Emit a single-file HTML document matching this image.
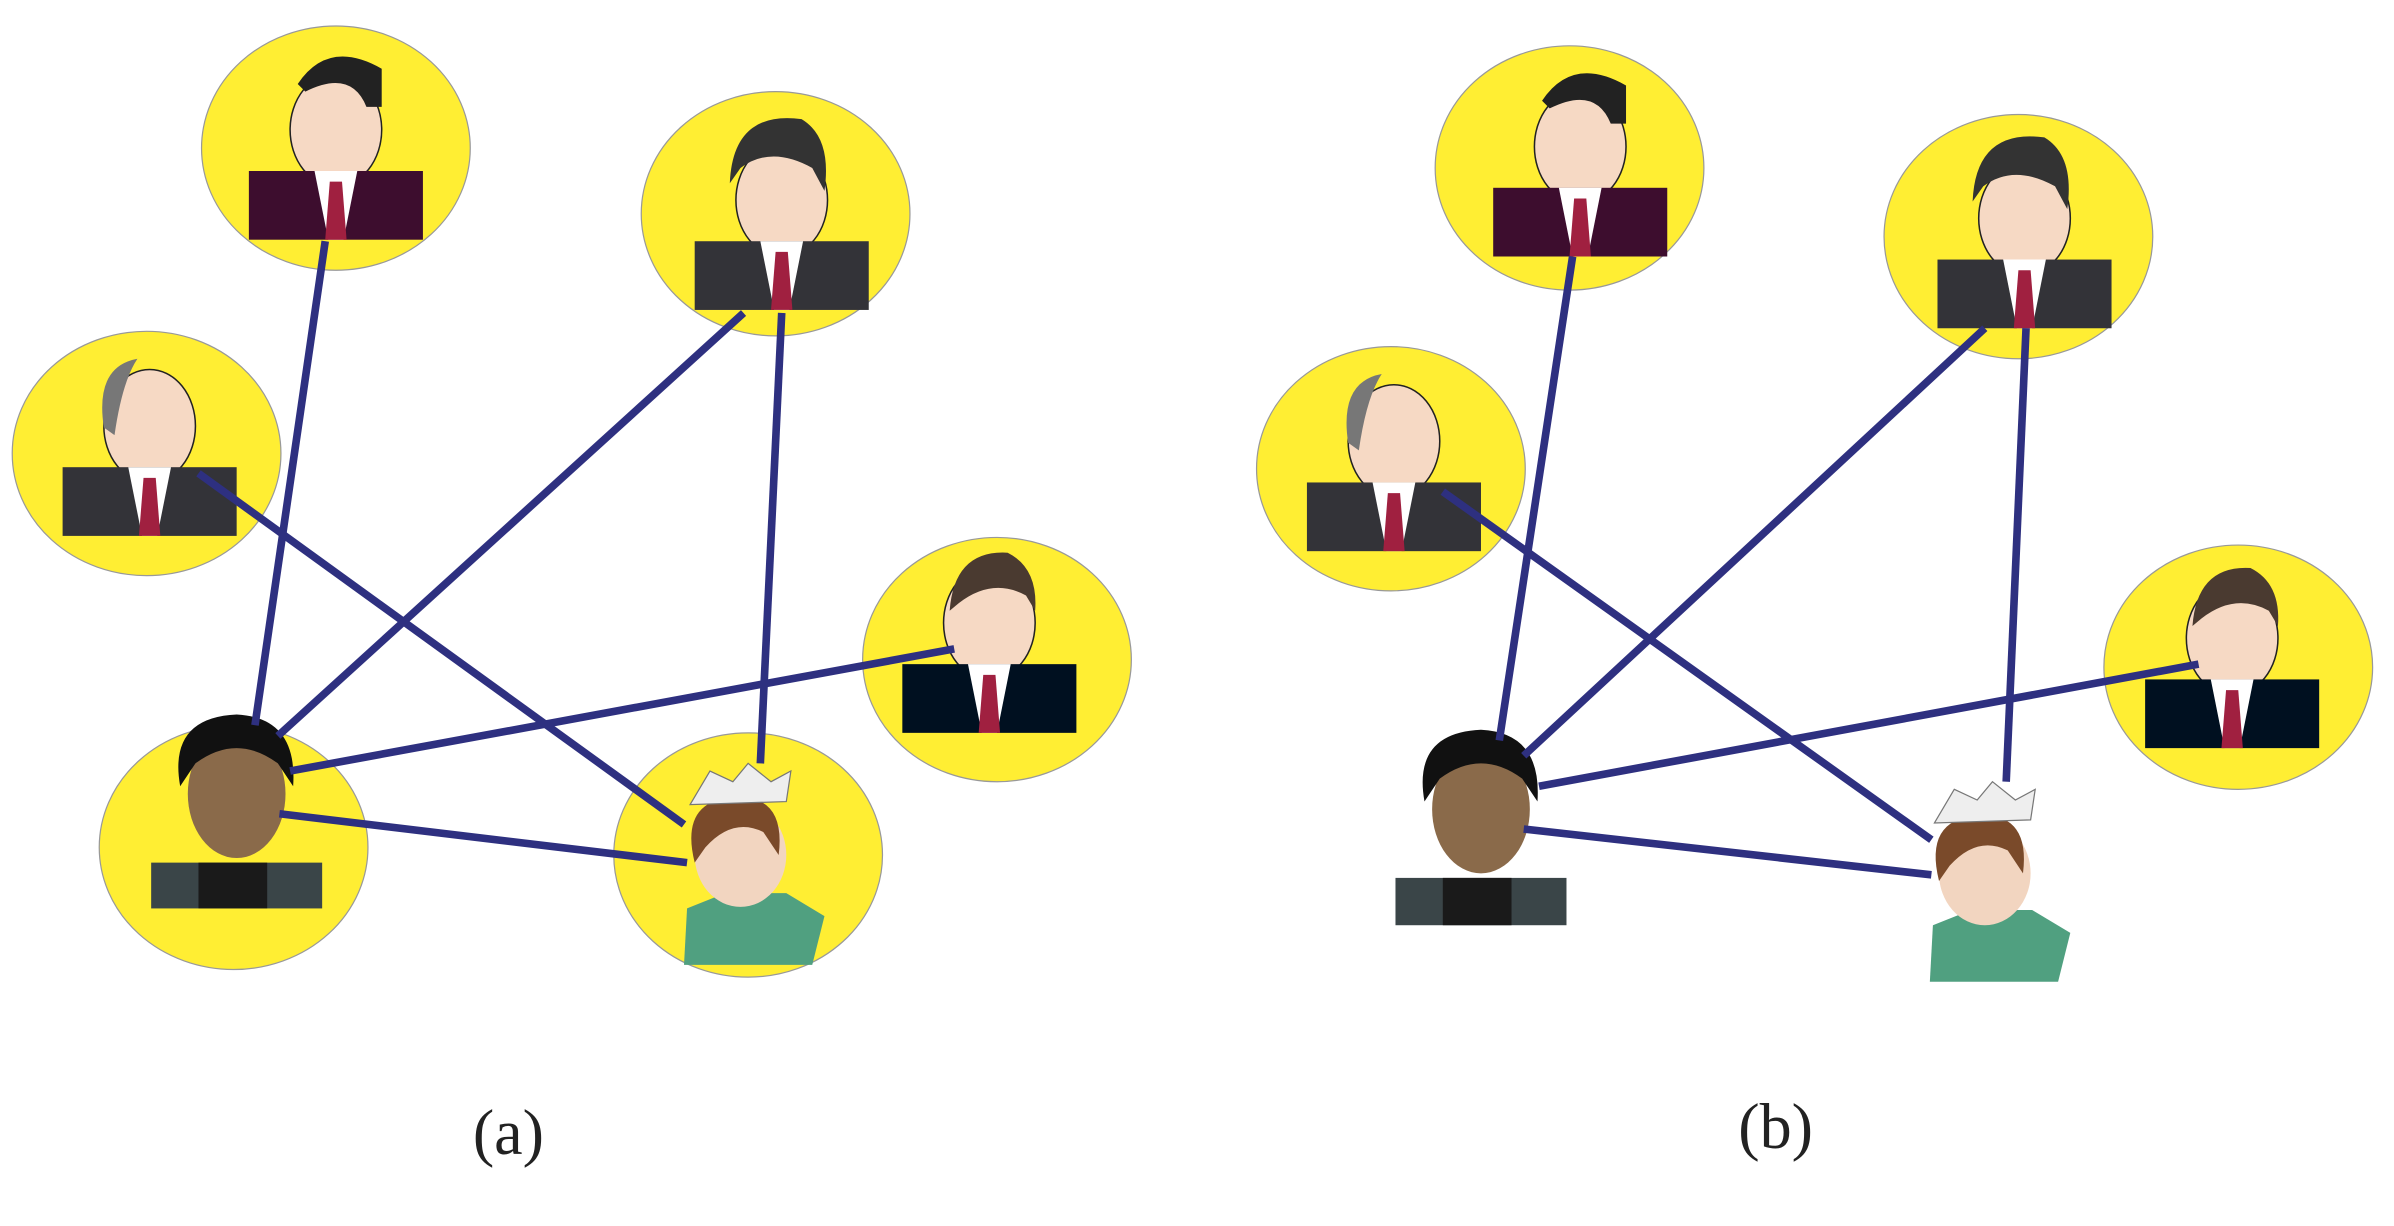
<!DOCTYPE html>
<html><head><meta charset="utf-8"><style>html,body{margin:0;padding:0;background:#fff}svg{display:block}</style></head>
<body>
<svg width="2394" height="1226" viewBox="0 0 1568 803" xmlns="http://www.w3.org/2000/svg">
<defs>
<g id="man">
 <ellipse cx="0" cy="-12" rx="30" ry="37" fill="#f6d9c4" stroke="#222" stroke-width="1"/>
 <rect x="-57" y="15" width="114" height="45" fill="currentColor"/>
 <polygon points="-14,15 14,15 5,60 -5,60" fill="#fff"/>
 <polygon points="-4,22 4,22 7,60 -7,60" fill="#a02040"/>
</g>
</defs>
<g stroke="#999" stroke-width="0.8" fill="#ffee33">
 <ellipse cx="220" cy="97" rx="88" ry="80"/>
 <ellipse cx="508" cy="140" rx="88" ry="80"/>
 <ellipse cx="96" cy="297" rx="88" ry="80"/>
 <ellipse cx="653" cy="432" rx="88" ry="80"/>
 <ellipse cx="153" cy="555" rx="88" ry="80"/>
 <ellipse cx="490" cy="560" rx="88" ry="80"/>
 <ellipse cx="1028" cy="110" rx="88" ry="80"/>
 <ellipse cx="1322" cy="155" rx="88" ry="80"/>
 <ellipse cx="911" cy="307" rx="88" ry="80"/>
 <ellipse cx="1466" cy="437" rx="88" ry="80"/>
</g>
<use href="#man" x="220" y="97" color="#3d0d2e"/><path d="M195,55 Q215,25 250,45 L250,70 L240,70 Q230,45 200,60Z" fill="#222"/>
<use href="#man" x="512" y="143" color="#333338"/><path d="M478,120 Q480,72 525,78 Q545,90 540,125 L532,110 Q505,95 485,110Z" fill="#333"/>
<use href="#man" x="98" y="291" color="#333338"/><path d="M68,280 Q62,240 90,235 Q80,250 75,285Z" fill="#777"/>
<use href="#man" x="648" y="420" color="#001020"/><path d="M622,400 Q625,360 660,362 Q680,372 678,400 L672,390 Q650,378 628,395Z" fill="#4a3a30"/>
<g><rect x="99" y="565" width="112" height="30" fill="#3a4548"/><rect x="130" y="565" width="45" height="30" fill="#1a1a1a"/><ellipse cx="155" cy="520" rx="32" ry="42" fill="#8a6a4a"/><path d="M118,515 Q110,470 155,468 Q195,470 192,515 L182,500 Q155,480 128,500Z" fill="#111"/></g>
<g><path d="M448,632 L450,595 L475,585 L515,585 L540,600 L532,632Z" fill="#50a080"/><ellipse cx="485" cy="560" rx="30" ry="34" fill="#f2d5c0"/><path d="M455,565 Q445,525 480,522 Q515,520 510,560 L500,545 Q480,535 462,555Z" fill="#7a4a2a"/><path d="M452,527 L465,505 L480,512 L490,500 L505,512 L518,505 L515,525Z" fill="#eee" stroke="#777" stroke-width="0.8"/></g>
<use href="#man" x="1035" y="108" color="#3d0d2e"/><path d="M1010,66 Q1030,36 1065,56 L1065,81 L1055,81 Q1045,56 1015,71Z" fill="#222"/>
<use href="#man" x="1326" y="155" color="#333338"/><path d="M1292,132 Q1294,84 1339,90 Q1359,102 1354,137 L1346,122 Q1319,107 1299,122Z" fill="#333"/>
<use href="#man" x="913" y="301" color="#333338"/><path d="M883,290 Q877,250 905,245 Q895,260 890,295Z" fill="#777"/>
<use href="#man" x="1462" y="430" color="#001020"/><path d="M1436,410 Q1439,370 1474,372 Q1494,382 1492,410 L1486,400 Q1464,388 1442,405Z" fill="#4a3a30"/>
<g><rect x="914" y="575" width="112" height="31" fill="#3a4548"/><rect x="945" y="575" width="45" height="31" fill="#1a1a1a"/><ellipse cx="970" cy="530" rx="32" ry="42" fill="#8a6a4a"/><path d="M933,525 Q925,480 970,478 Q1010,480 1007,525 L997,510 Q970,490 943,510Z" fill="#111"/></g>
<g><path d="M1264,643 L1266,606 L1291,596 L1331,596 L1356,611 L1348,643Z" fill="#50a080"/><ellipse cx="1300" cy="572" rx="30" ry="34" fill="#f2d5c0"/><path d="M1270,577 Q1260,537 1295,534 Q1330,532 1325,572 L1315,557 Q1295,547 1277,567Z" fill="#7a4a2a"/><path d="M1267,539 L1280,517 L1295,524 L1305,512 L1320,524 L1333,517 L1330,537Z" fill="#eee" stroke="#777" stroke-width="0.8"/></g>
<g stroke="#2e3080" stroke-width="5" stroke-linecap="butt">
 <line x1="213" y1="158" x2="167" y2="475"/>
 <line x1="487" y1="205" x2="182" y2="482"/>
 <line x1="512" y1="205" x2="498" y2="500"/>
 <line x1="130" y1="310" x2="448" y2="540"/>
 <line x1="625" y1="425" x2="190" y2="505"/>
 <line x1="183" y1="533" x2="450" y2="565"/>
 <line x1="1030" y1="168" x2="982" y2="485"/>
 <line x1="1300" y1="215" x2="998" y2="495"/>
 <line x1="1327" y1="215" x2="1314" y2="512"/>
 <line x1="945" y1="322" x2="1265" y2="550"/>
 <line x1="1440" y1="435" x2="1008" y2="515"/>
 <line x1="998" y1="543" x2="1265" y2="573"/>
</g>
<text x="333" y="756" font-family="Liberation Serif, serif" font-size="42" text-anchor="middle" fill="#222">(a)</text>
<text x="1163" y="752" font-family="Liberation Serif, serif" font-size="42" text-anchor="middle" fill="#222">(b)</text>
</svg>
</body></html>
